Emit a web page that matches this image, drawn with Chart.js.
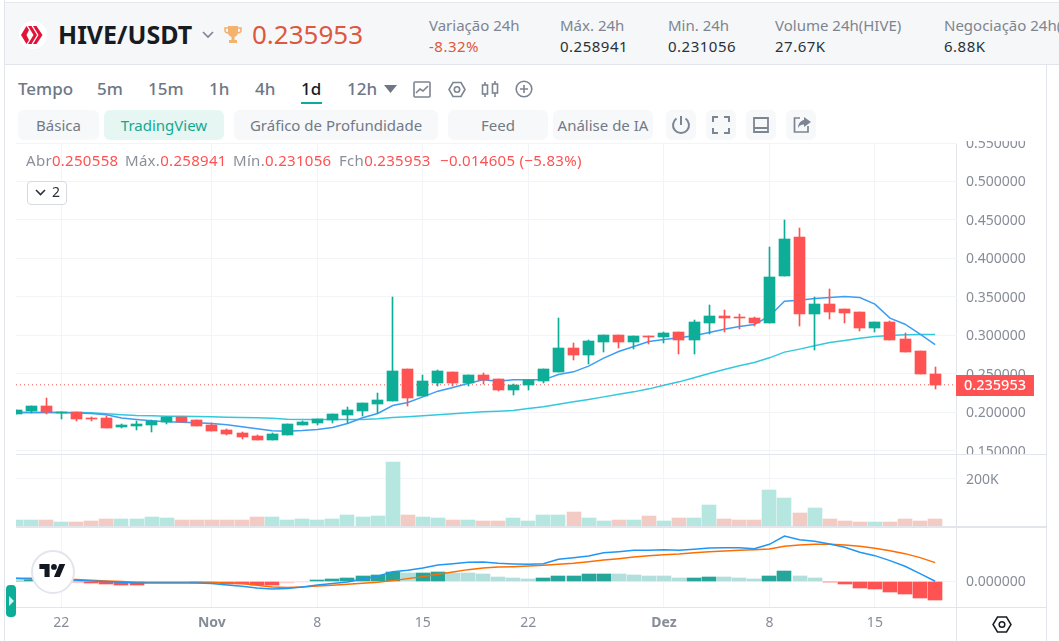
<!DOCTYPE html>
<html lang="pt">
<head>
<meta charset="UTF-8" />
<title>HIVE/USDT</title>
<script src="https://cdn.jsdelivr.net/npm/chart.js@4"></script>
<style>
  html, body { margin: 0; background: #fff; overflow: hidden; }
  #page { position: relative; width: 1059px; height: 641px; overflow: hidden; font-family: "Noto Sans", sans-serif; color: #7f8792; }
  #page > * { position: absolute; }
  canvas { display: block; }
  .t { white-space: nowrap; line-height: 20px; }
  .lbl { font-size: 15px; color: #7d8590; top: 15px; }
  .val { font-size: 15px; letter-spacing: .5px; color: #2b3139; top: 36px; }
  .tab { font-size: 17px; font-weight: 500; color: #6f7785; top: 79px; }
  .btn { top: 110px; height: 30px; line-height: 30px; border-radius: 6px; background: #f7f8fa; text-align: center; font-size: 15px; color: #727a86; }
  .leg { font-size: 15px; letter-spacing: .3px; top: 150px; color: #ff5252; }
  .leg i { font-style: normal; color: #8a9099; }
  .line { background: #e3e5ec; }
  .ico { stroke: #7c8592; fill: none; stroke-width: 1.6; }
</style>
</head>
<body>
<div id="page">
  <!-- cabecalho -->
  <div style="left:5px;top:2px;width:1054px;height:61px;background:#f6f7f9;border-top:1px solid #e6e8ec;border-bottom:1px solid #e3e5ec"></div>
  <div class="line" style="left:4px;top:0;width:1px;height:641px"></div>
  <div class="line" style="left:1046px;top:65px;width:1px;height:576px"></div>
  <div class="line" style="left:956px;top:143px;width:1px;height:498px"></div>
  <div class="line" style="left:16px;top:454px;width:1030px;height:1px"></div>
  <div class="line" style="left:16px;top:526px;width:1030px;height:2px"></div>
  <div class="line" style="left:16px;top:607px;width:1030px;height:1px"></div>

  <svg style="left:19px;top:21px" width="28" height="28" viewBox="0 0 28 28">
    <circle cx="14" cy="14" r="14" fill="#fff"/>
    <path d="M2 14 L7.5 5 L10 9 L7.5 14 L10 19 L7.5 23 Z M9 5 L12.5 5 L18 14 L12.5 23 L9 23 L14.5 14 Z M14 5 L17.5 5 L23.5 14 L17.5 23 L14 23 L19.5 14 Z" fill="#e31337"/>
  </svg>
  <div class="t" style="left:58px;top:20px;font-size:25px;line-height:28px;font-weight:700;color:#171b22">HIVE/USDT</div>
  <svg style="left:202px;top:31px" width="12" height="8" viewBox="0 0 12 8"><path d="M1 1 L6 6 L11 1" stroke="#7c8592" stroke-width="1.6" fill="none"/></svg>
  <svg style="left:224px;top:25px" width="18" height="19" viewBox="0 0 18 19">
    <path d="M4 1 H14 V7 C14 10 12 12 9 12 C6 12 4 10 4 7 Z M7.5 12 H10.5 V15 H13 V18 H5 V15 H7.5 Z" fill="#f3b26d"/>
    <path d="M4 3 H1 V5 C1 7 2.5 8 4.5 8 M14 3 H17 V5 C17 7 15.5 8 13.5 8" stroke="#f3b26d" stroke-width="1.6" fill="none"/>
  </svg>
  <div class="t" style="left:252px;top:20px;font-size:26px;line-height:28px;color:#dd5741">0.235953</div>

  <div class="t lbl" style="left:429px">Variação 24h</div>
  <div class="t val" style="left:429px;color:#dd5741">-8.32%</div>
  <div class="t lbl" style="left:560px">Máx. 24h</div>
  <div class="t val" style="left:560px">0.258941</div>
  <div class="t lbl" style="left:668px">Min. 24h</div>
  <div class="t val" style="left:668px">0.231056</div>
  <div class="t lbl" style="left:775px">Volume 24h(HIVE)</div>
  <div class="t val" style="left:775px">27.67K</div>
  <div class="t lbl" style="left:944px">Negociação 24h(USDT)</div>
  <div class="t val" style="left:944px">6.88K</div>

  <!-- intervalos -->
  <div class="t tab" style="left:18px">Tempo</div>
  <div class="t tab" style="left:97px">5m</div>
  <div class="t tab" style="left:148px">15m</div>
  <div class="t tab" style="left:209px">1h</div>
  <div class="t tab" style="left:255px">4h</div>
  <div class="t tab" style="left:301px;color:#171b22">1d</div>
  <div style="left:301px;top:102px;width:21px;height:2px;background:#0ead98"></div>
  <div class="t tab" style="left:347px">12h</div>
  <svg style="left:384px;top:85px" width="13" height="8"><path d="M0 0 H13 L6.5 8 Z" fill="#6f7785"/></svg>
  <svg class="ico" style="left:413px;top:81px" width="18" height="17" viewBox="0 0 18 17"><rect x="1" y="1" width="16" height="15" rx="1"/><path d="M3 12 L7 8 L10 10 L15 5"/></svg>
  <svg class="ico" style="left:448px;top:81px" width="18" height="17" viewBox="0 0 18 17"><path d="M5 1.5 H13 L17 8.5 L13 15.5 H5 L1 8.5 Z"/><circle cx="9" cy="8.5" r="2.7"/></svg>
  <svg class="ico" style="left:481px;top:81px" width="18" height="17" viewBox="0 0 18 17"><rect x="1.5" y="4" width="5" height="9"/><rect x="11.5" y="3" width="5" height="9"/><path d="M4 1 V4 M4 13 V16 M14 0 V3 M14 12 V16"/></svg>
  <svg class="ico" style="left:515px;top:80px" width="18" height="18" viewBox="0 0 18 18"><circle cx="9" cy="9" r="7.8"/><path d="M9 5 V13 M5 9 H13"/></svg>

  <!-- botoes -->
  <div class="btn" style="left:18px;width:81px">Básica</div>
  <div class="btn" style="left:104px;width:120px;background:#e6f6f2;color:#14a892">TradingView</div>
  <div class="btn" style="left:234px;width:204px">Gráfico de Profundidade</div>
  <div class="btn" style="left:448px;width:100px">Feed</div>
  <div class="btn" style="left:553px;width:100px">Análise de IA</div>
  <div class="btn" style="left:666px;width:30px"></div>
  <div class="btn" style="left:706px;width:30px"></div>
  <div class="btn" style="left:746px;width:30px"></div>
  <div class="btn" style="left:786px;width:30px"></div>
  <svg class="ico" style="left:671px;top:115px;stroke-width:2" width="20" height="20" viewBox="0 0 20 20"><path d="M10 1 V10 M5.5 3.5 A8 8 0 1 0 14.5 3.5"/></svg>
  <svg class="ico" style="left:712px;top:116px;stroke-width:2" width="18" height="18" viewBox="0 0 18 18"><path d="M1 6 V1 H6 M12 1 H17 V6 M17 12 V17 H12 M6 17 H1 V12"/></svg>
  <svg class="ico" style="left:753px;top:117px;stroke-width:1.8" width="16" height="16" viewBox="0 0 16 16"><path d="M1 1 H15 V15 H1 Z M1 11 H15"/></svg>
  <svg style="left:793px;top:116px" width="18" height="17" viewBox="0 0 18 17"><path d="M7 2 H1.5 V16 H15 V10" stroke="#7c8592" stroke-width="1.7" fill="none"/><path d="M11 1 L18 6 L11 11 V8.5 C8 8.5 6 10 5 12 C5 8 7.5 4.5 11 4 Z" fill="#7c8592"/></svg>

  <!-- graficos -->
  <canvas id="priceChart" width="1031" height="313" style="left:16px;top:141px"></canvas>
  <canvas id="volumeChart" width="1031" height="71" style="left:16px;top:455px"></canvas>
  <canvas id="macdChart" width="1031" height="112" style="left:16px;top:528px"></canvas>

  <!-- legenda -->
  <div class="t leg" style="left:26px"><i>Abr</i>0.250558</div>
  <div class="t leg" style="left:125px"><i>Máx.</i>0.258941</div>
  <div class="t leg" style="left:233px"><i>Mín.</i>0.231056</div>
  <div class="t leg" style="left:339px"><i>Fch</i>0.235953</div>
  <div class="t leg" style="left:440px">−0.014605 (−5.83%)</div>
  <div style="left:27px;top:181px;width:38px;height:22px;border:1px solid #d6d9e0;border-radius:4px;background:#fff"></div>
  <svg style="left:35px;top:189px" width="11" height="7" viewBox="0 0 11 7"><path d="M1 1 L5.5 5.5 L10 1" stroke="#2b3139" stroke-width="1.6" fill="none"/></svg>
  <div class="t" style="left:52px;top:181px;font-size:14px;line-height:22px;color:#2b3139">2</div>

  <!-- logo e alca -->
  <div style="left:31px;top:550px;width:40px;height:40px;border:2px solid #e3e5ec;border-radius:50%;background:#fff"></div>
  <svg style="left:39px;top:564px" width="27" height="16" viewBox="0 0 36 22"><path d="M14 18H7V7H0V0h14v18zM28 18h-8L27.5 0h8L28 18z" fill="#131722"/><circle cx="20" cy="4" r="4" fill="#131722"/></svg>
  <div style="left:6px;top:585px;width:10px;height:32px;background:#0ead98;border-radius:4px"></div>
  <svg style="left:9px;top:596px" width="5" height="10"><path d="M0 0 L5 5 L0 10 Z" fill="#d5f3ee"/></svg>
  <svg style="left:992px;top:616px" width="20" height="17" viewBox="0 0 20 17"><path d="M5.5 1 H14.5 L19 8.5 L14.5 16 H5.5 L1 8.5 Z" stroke="#171b22" stroke-width="1.5" fill="none"/><circle cx="10" cy="8.5" r="2.8" stroke="#171b22" stroke-width="1.5" fill="none"/></svg>
</div>

<script>
// dias de 19 out a 19 dez
const days = [
  '10-19','10-20','10-21','10-22','10-23','10-24','10-25','10-26','10-27','10-28','10-29','10-30','10-31',
  '11-01','11-02','11-03','11-04','11-05','11-06','11-07','11-08','11-09','11-10','11-11','11-12','11-13','11-14','11-15',
  '11-16','11-17','11-18','11-19','11-20','11-21','11-22','11-23','11-24','11-25','11-26','11-27','11-28','11-29','11-30',
  '12-01','12-02','12-03','12-04','12-05','12-06','12-07','12-08','12-09','12-10','12-11','12-12','12-13','12-14','12-15',
  '12-16','12-17','12-18','12-19'
];
const tickDays = ['10-22','11-01','11-08','11-15','11-22','12-01','12-08','12-15'];
const tickLabels = ['22','Nov','8','15','22','Dez','8','15'];
const boldLabels = ['Nov','Dez'];

const priceTicks = [0.15,0.2,0.25,0.3,0.35,0.4,0.45,0.5,0.55];
const volumeTicks = [200000];
const macdTicks = [0];

const open = [.198,.2013,.2082,.1995,.2,.1931,.1926,.181,.1823,.1835,.1879,.1944,.19,.1835,.1771,.1732,.1693,.1641,.1706,.1835,.1861,.19,.1965,.2017,.2108,.2147,.2563,.2212,.2381,.2524,.2381,.2485,.2433,.229,.2355,.2407,.2524,.2835,.2745,.2913,.3004,.2913,.2991,.2978,.3043,.2939,.316,.3251,.3238,.3225,.316,.3771,.4277,.3277,.3407,.3342,.3303,.3095,.3173,.2952,.2797,.250558];
const high = [.203,.2082,.2186,.2,.2,.1944,.1957,.1848,.1887,.1897,.1948,.1948,.19,.1861,.1784,.1749,.1706,.1732,.1848,.1887,.1922,.1978,.2069,.2121,.2251,.3494,.2563,.2485,.255,.2524,.2485,.2511,.2433,.2368,.242,.2563,.3225,.29,.2939,.3004,.3004,.2991,.2991,.3043,.3043,.3199,.3394,.3329,.3277,.3238,.4147,.4498,.4394,.3498,.3602,.3342,.3303,.3173,.3186,.303,.2797,.258941];
const low = [.198,.1996,.1983,.1918,.1892,.1892,.1797,.1797,.1771,.1745,.1848,.1879,.1823,.1758,.1714,.1654,.1641,.1641,.1706,.1835,.1835,.1861,.1861,.1952,.1991,.2147,.2082,.2212,.2342,.2342,.2342,.2368,.2277,.2225,.229,.2381,.2524,.268,.2628,.2784,.2835,.2823,.2887,.29,.2758,.2758,.3017,.3043,.3082,.3121,.316,.3771,.3121,.281,.3212,.316,.3056,.3043,.2939,.2784,.2498,.231056];
const close = [.203,.2082,.2,.2,.1913,.1913,.1797,.1835,.1848,.1892,.1944,.1883,.1823,.1758,.1727,.168,.1641,.1719,.1848,.1874,.1913,.1978,.203,.2121,.216,.2537,.2186,.2407,.2537,.2381,.2485,.242,.229,.2355,.242,.2563,.2835,.2745,.2926,.3004,.2913,.2991,.2978,.303,.2939,.3173,.3251,.3225,.3225,.316,.3758,.4251,.3277,.3407,.3303,.329,.3095,.3173,.2939,.2784,.2498,.235953];
const maFast = [.2,.2,.2,.2,.1995,.1987,.197,.193,.1909,.1892,.1879,.1874,.1866,.1857,.184,.1814,.1788,.1762,.1758,.1766,.1779,.1805,.1857,.1931,.1987,.2091,.213,.2203,.2277,.2325,.2377,.2424,.2407,.2424,.2424,.2424,.2494,.2528,.2602,.2706,.2792,.2857,.2922,.2948,.297,.2996,.3039,.3082,.3117,.3143,.3251,.3446,.3459,.3481,.3494,.3506,.3494,.3407,.3225,.3147,.3017,.2883];
const maSlow = [.2,.2,.2,.2,.2,.1996,.1983,.197,.1961,.1957,.1952,.195,.1948,.1944,.1939,.1935,.1932,.1925,.1913,.191,.1909,.1909,.1909,.1909,.1918,.1935,.1944,.1957,.197,.1983,.1996,.2009,.2017,.2026,.2052,.2074,.2108,.2139,.2169,.2203,.2238,.2268,.2307,.2355,.2398,.245,.2506,.2558,.2606,.2649,.271,.2784,.2823,.2866,.2909,.2935,.2965,.2987,.3,.3009,.3013,.3013];
const volume = [25500,25500,25500,17000,17000,21000,30000,30000,30000,38000,34000,25500,25500,25500,25500,25500,38000,38000,25500,30000,25500,30000,47000,38000,42500,272000,47000,38000,34000,25500,25500,21000,21000,34000,21000,47000,47000,60000,34000,21000,25500,25500,42500,21000,34000,34000,89000,30000,25500,25500,153000,119000,55000,77000,30000,21000,17000,17000,17000,30000,21000,30000];
const macdLine = [.002,.00175,.0015,.00125,.00075,.00025,-.00025,-.00075,-.00125,-.00125,-.00125,-.00125,-.00125,-.00175,-.00275,-.00375,-.005,-.00575,-.0055,-.00425,-.00275,-.00175,-.0005,.00175,.00375,.00725,.00825,.01,.01225,.01325,.01425,.0145,.0135,.013,.01275,.01325,.0165,.01775,.019,.0215,.02225,.02325,.02325,.02375,.02325,.024,.025,.02525,.02525,.0245,.02775,.034,.03125,.03,.028,.0255,.02175,.01925,.0155,.01125,.00575,0];
const signalLine = [.00225,.00225,.002,.00175,.00125,.00075,.00025,-.00025,-.00075,-.00075,-.00075,-.00075,-.00075,-.001,-.00125,-.00175,-.003,-.00425,-.00475,-.00425,-.0035,-.003,-.00225,-.0015,-.00075,.0005,.002,.0035,.00525,.007,.00875,.01,.01075,.011,.0115,.012,.01275,.0135,.01475,.016,.017,.01825,.01925,.02,.0205,.0215,.02225,.02275,.02325,.02375,.02425,.02625,.02725,.02775,.02775,.02725,.02625,.02475,.023,.02075,.01775,.014];
const histogram = [.0005,.001,.0005,-.00025,-.0006,-.00125,-.002,-.00275,-.0028,-.00075,-.0005,-.0004,-.001,-.0016,-.0021,-.0024,-.0026,-.0029,-.0015,-.0006,.0006,.0015,.00225,.00375,.0045,.00675,.006,.0061,.00675,.006,.0059,.00525,.003,.00225,.0015,.00225,.00375,.0038,.00525,.0053,.00525,.0045,.00375,.0037,.00225,.0023,.003,.00295,.00225,.0015,.00375,.0075,.00375,.00225,-.00075,-.00225,-.00525,-.006,-.00825,-.00975,-.01275,-.01425];

const UP = '#0ead98';
const DOWN = '#ff5252';
const xMax = 62.45;
const GRID = '#f3f4f7';
const FONT = '"Noto Sans", sans-serif';

const isUp = days.map((d, i) => close[i] >= open[i]);
const candleColors = isUp.map(up => up ? UP : DOWN);
const volumeColors = isUp.map(up => up ? '#b5e6df' : '#f3cbc5');
const histColors = histogram.map((v, i) => {
  const prev = i > 0 ? histogram[i - 1] : 0;
  if (v >= 0) return v >= prev ? '#26a69a' : '#b2dfdb';
  return v < prev ? '#ff5252' : '#ffcdd2';
});

const points = values => values.map((v, i) => ({ x: i, y: v }));
const ranges = (a, b) => days.map((d, i) => ({ x: i, y: [a[i], b[i]] }));

function paneOptions(yMin, yMax, yTicks, yFormat, xHeight, topPad) {
  return {
    responsive: false,
    animation: false,
    events: [],
    layout: { padding: { top: topPad } },
    plugins: { legend: { display: false }, tooltip: { enabled: false } },
    scales: {
      x: {
        type: 'linear',
        min: 0,
        max: xMax,
        offset: false,
        border: { display: false },
        grid: { color: GRID, offset: false, drawTicks: false },
        afterBuildTicks: axis => {
          axis.ticks = tickDays.map(d => ({ value: days.indexOf(d) }));
        },
        afterFit: axis => {
          axis.height = xHeight;
          axis.paddingLeft = 0;
          axis.paddingRight = 0;
        },
        ticks: {
          display: xHeight > 0,
          autoSkip: false,
          maxRotation: 0,
          padding: 8,
          color: '#868d98',
          font: ctx => ({
            family: FONT,
            size: 14,
            weight: boldLabels.includes(tickLabels[ctx.index]) ? '700' : '400'
          }),
          callback: (v, i) => tickLabels[i]
        }
      },
      y: {
        position: 'right',
        min: yMin,
        max: yMax,
        border: { display: false },
        grid: { color: GRID, drawTicks: false },
        afterBuildTicks: axis => {
          axis.ticks = yTicks.map(v => ({ value: v }));
        },
        afterFit: axis => {
          axis.width = 90;
          axis.paddingTop = 0;
          axis.paddingBottom = 0;
        },
        ticks: {
          autoSkip: false,
          padding: 9,
          labelOffset: 1,
          color: '#868d98',
          font: { family: FONT, size: 14 },
          callback: yFormat
        }
      }
    }
  };
}

// velas e barras alinhadas ao pixel, como no original
const snapBars = {
  id: 'snapBars',
  afterDatasetsUpdate(chart) {
    chart.data.datasets.forEach((ds, n) => {
      if (ds.type === 'line') return;
      chart.getDatasetMeta(n).data.forEach(bar => {
        bar.x = ds.barThickness % 2 ? Math.floor(bar.x) + 0.5 : Math.round(bar.x);
        bar.y = Math.round(bar.y);
        bar.base = Math.round(bar.base);
      });
    });
  }
};

// etiqueta do ultimo preco
const priceTag = {
  id: 'priceTag',
  afterDraw(chart) {
    const last = close[close.length - 1];
    const y = Math.round(chart.scales.y.getPixelForValue(last));
    const left = chart.chartArea.right - 1;
    const c = chart.ctx;
    c.save();
    c.fillStyle = '#ff5252';
    c.fillRect(left, y - 10, 78, 21);
    c.fillStyle = '#fff';
    c.font = '500 14.5px ' + FONT;
    c.textAlign = 'center';
    c.textBaseline = 'middle';
    c.fillText(last.toFixed(6), left + 39, y + 1);
    c.restore();
  }
};

new Chart(document.getElementById('priceChart'), {
  type: 'bar',
  data: {
    datasets: [
      { data: ranges(open, close), backgroundColor: candleColors, barThickness: 11, grouped: false, order: 0 },
      { data: ranges(low, high), backgroundColor: candleColors, barThickness: 1, grouped: false, order: 1 },
      { type: 'line', data: points(maFast), borderColor: '#3d9df3', borderWidth: 1.5, pointRadius: 0, order: 2 },
      { type: 'line', data: points(maSlow), borderColor: '#34c8dd', borderWidth: 1.5, pointRadius: 0, order: 3 },
      {
        type: 'line',
        data: [{ x: 0, y: close[close.length - 1] }, { x: xMax, y: close[close.length - 1] }],
        borderColor: '#ef5350',
        borderWidth: 1,
        borderDash: [1, 3],
        pointRadius: 0,
        order: 4
      }
    ]
  },
  options: paneOptions(0.1461, 0.55, priceTicks, v => v.toFixed(6), 0, 2),
  plugins: [snapBars, priceTag]
});

new Chart(document.getElementById('volumeChart'), {
  type: 'bar',
  data: {
    datasets: [{ data: points(volume), backgroundColor: volumeColors, barThickness: 14 }]
  },
  options: paneOptions(0, 302000, volumeTicks, v => (v / 1000) + 'K', 0, 0),
  plugins: [snapBars]
});

new Chart(document.getElementById('macdChart'), {
  type: 'bar',
  data: {
    datasets: [
      { type: 'line', data: points(macdLine), borderColor: '#2196f3', borderWidth: 1.5, pointRadius: 0, order: 0 },
      { type: 'line', data: points(signalLine), borderColor: '#ff6d00', borderWidth: 1.5, pointRadius: 0, order: 1 },
      { data: points(histogram), backgroundColor: histColors, barThickness: 14, order: 2 }
    ]
  },
  options: paneOptions(-0.0193, 0.04, macdTicks, v => v.toFixed(6), 33, 0),
  plugins: [snapBars]
});
</script>
</body>
</html>
